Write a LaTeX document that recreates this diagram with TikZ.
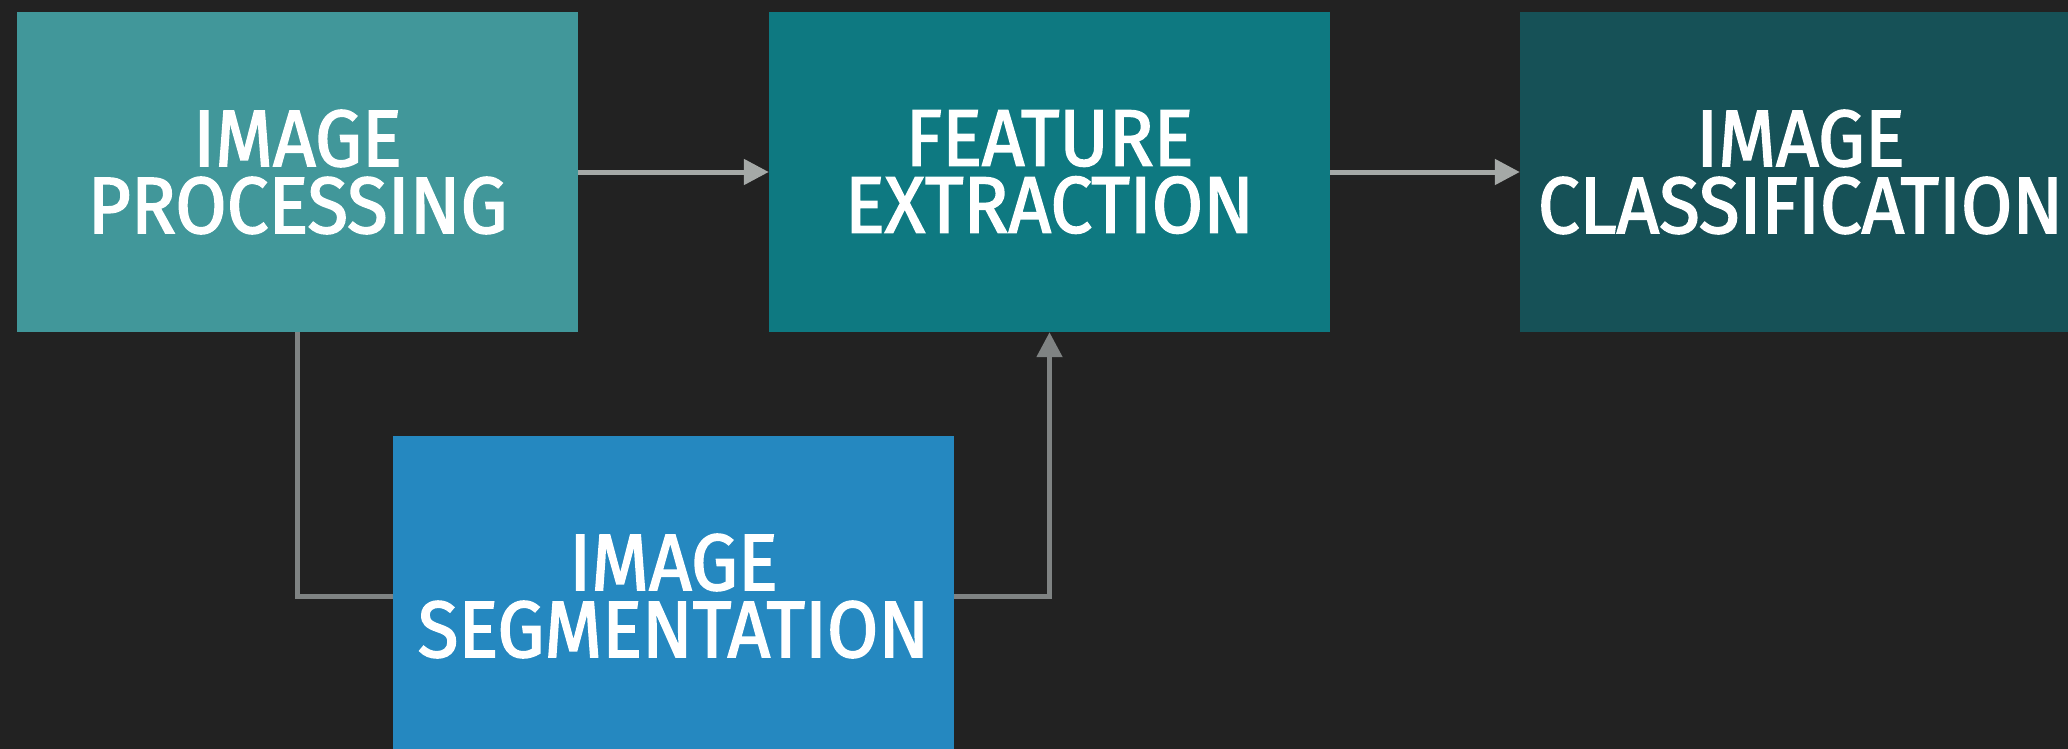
\documentclass[tikz,border=0pt]{standalone}
\usepackage{fontspec}
\usetikzlibrary{arrows.meta}
\newfontfamily\boxfont[FakeStretch=0.93,FakeBold=2]{Fira Sans}
\definecolor{bgcol}{HTML}{222222}
\definecolor{proccol}{HTML}{41979A}
\definecolor{featcol}{HTML}{0E7981}
\definecolor{clscol}{HTML}{165157}
\definecolor{segcol}{HTML}{2588C0}
\definecolor{hlinecol}{HTML}{A5A9A7}
\definecolor{vlinecol}{HTML}{7F8383}
\tikzset{
  stagebox/.style={draw=none, minimum width=561pt, minimum height=320pt,
    inner sep=0pt, text=white, align=center,
    font=\boxfont\fontsize{80}{67}\selectfont},
  flowarrow/.style={line width=5pt, draw=hlinecol,
    -{Triangle[length=25pt,width=25pt,fill=hlinecol]}},
  linkline/.style={line width=5pt, draw=vlinecol},
  linkarrow/.style={line width=5pt, draw=vlinecol,
    -{Triangle[length=25pt,width=25pt,fill=vlinecol]}}
}
\begin{document}
\begin{tikzpicture}[x=1pt,y=-1pt]
  \useasboundingbox (0,0) rectangle (2068,749);
  \fill[bgcol] (0,0) rectangle (2068,749);
  \clip (0,0) rectangle (2068,749);

  % processing stages
  \node[stagebox, fill=proccol] (proc) at (297.5,172) {IMAGE\\PROCESSING};
  \node[stagebox, fill=featcol] (feat) at (1049.5,172) {FEATURE\\EXTRACTION};
  \node[stagebox, fill=clscol]  (cls)  at (1800.5,172) {IMAGE\\CLASSIFICATION};
  \node[stagebox, fill=segcol]  (seg)  at (673.5,596) {IMAGE\\SEGMENTATION};

  % main flow
  \draw[flowarrow] (proc.east) -- (feat.west);
  \draw[flowarrow] (feat.east) -- (cls.west);

  % segmentation branch
  \draw[linkline] (proc.south) |- (seg.west);
  \draw[linkarrow] (seg.east) -| (feat.south);
\end{tikzpicture}
\end{document}
